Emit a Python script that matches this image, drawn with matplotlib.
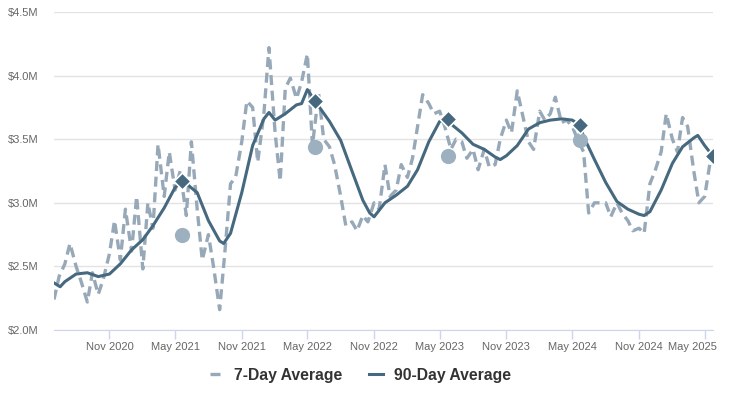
import numpy as np
import pandas as pd
import matplotlib
matplotlib.use("Agg")
import matplotlib.pyplot as plt
import matplotlib.dates as mdates
import matplotlib.transforms as mtransforms
from matplotlib.ticker import FuncFormatter

plt.rcParams['font.family'] = ['Liberation Sans', 'DejaVu Sans']

# 7-day average, sampled on the 1st and 15th of each month (values in $M)
ma7_dates = list(pd.date_range("2020-06-01", "2025-05-15", freq="SMS")) + [pd.Timestamp("2025-05-23")]
ma7_values = [
    # 2020 Jun-Dec
    2.24, 2.42, 2.52, 2.68, 2.50, 2.38, 2.22, 2.45, 2.28, 2.40, 2.60, 2.86, 2.55, 2.95,
    # 2021
    2.62, 3.05, 2.48, 3.00, 2.80, 3.46, 3.05, 3.40, 3.10, 3.25, 2.90, 3.48,
    2.95, 2.55, 2.75, 2.50, 2.16, 2.60, 3.15, 3.20, 3.48, 3.80, 3.75, 3.32,
    # 2022
    3.70, 4.22, 3.55, 3.17, 3.90, 3.98, 3.82, 3.95, 4.17, 3.45, 3.86, 3.50,
    3.44, 3.30, 3.05, 2.82, 2.85, 2.78, 2.90, 2.85, 3.00, 2.95, 3.30, 3.05,
    # 2023
    3.10, 3.30, 3.20, 3.35, 3.60, 3.85, 3.78, 3.70, 3.72, 3.60, 3.42, 3.50,
    3.48, 3.35, 3.42, 3.26, 3.42, 3.28, 3.30, 3.50, 3.65, 3.55, 3.88, 3.70,
    # 2024
    3.48, 3.42, 3.72, 3.65, 3.70, 3.83, 3.63, 3.65, 3.60, 3.50, 3.40, 2.92,
    3.00, 3.00, 3.00, 2.89, 3.00, 2.92, 2.86, 2.78, 2.80, 2.76, 3.15, 3.25,
    # 2025 Jan-May
    3.40, 3.70, 3.50, 3.40, 3.67, 3.60, 3.25, 3.00, 3.05, 3.30, 3.38,
]

# 90-day average (values in $M)
ma90_dates = [
    "2020-06-01", "2020-06-18", "2020-07-01", "2020-08-01", "2020-09-01", "2020-10-01",
    "2020-11-01", "2020-12-01", "2021-01-01", "2021-02-01", "2021-03-01", "2021-04-01",
    "2021-05-01", "2021-05-21", "2021-06-01", "2021-07-01", "2021-08-01", "2021-09-01",
    "2021-09-12", "2021-10-01", "2021-11-01", "2021-12-01", "2022-01-01", "2022-01-15",
    "2022-02-01", "2022-03-01", "2022-04-01", "2022-04-15", "2022-05-01", "2022-05-22",
    "2022-06-01", "2022-07-01", "2022-08-01", "2022-09-01", "2022-10-01", "2022-10-20",
    "2022-11-01", "2022-12-01", "2023-01-01", "2023-02-01", "2023-03-01", "2023-04-01",
    "2023-05-01", "2023-05-23", "2023-06-01", "2023-07-01", "2023-08-01", "2023-09-01",
    "2023-10-01", "2023-10-15", "2023-11-01", "2023-12-01", "2024-01-01", "2024-02-01",
    "2024-03-01", "2024-04-01", "2024-05-01", "2024-05-21", "2024-06-01", "2024-07-01",
    "2024-08-01", "2024-09-01", "2024-10-01", "2024-11-01", "2024-11-15", "2024-12-01",
    "2025-01-01", "2025-02-01", "2025-03-01", "2025-04-01", "2025-04-12", "2025-05-01",
    "2025-05-23",
]
ma90_values = [
    2.37, 2.34, 2.38, 2.44, 2.45, 2.42,
    2.44, 2.52, 2.63, 2.71, 2.82, 2.96,
    3.12, 3.17, 3.15, 3.08, 2.86, 2.70,
    2.68, 2.76, 3.08, 3.45, 3.66, 3.71,
    3.65, 3.70, 3.77, 3.78, 3.89, 3.80,
    3.76, 3.64, 3.49, 3.25, 3.02, 2.92,
    2.89, 3.00, 3.06, 3.13, 3.26, 3.48,
    3.64, 3.66, 3.62, 3.55, 3.46, 3.42,
    3.36, 3.34, 3.37, 3.45, 3.58, 3.63,
    3.65, 3.66, 3.65, 3.61, 3.52, 3.34,
    3.16, 3.01, 2.95, 2.91, 2.90, 2.93,
    3.10, 3.31, 3.44, 3.51, 3.53, 3.45,
    3.37,
]

# yearly markers
marker_dates = ["2021-05-21", "2022-05-22", "2023-05-23", "2024-05-21", "2025-05-23"]
diamond_values = [3.17, 3.80, 3.66, 3.61, 3.37]
circle_dates = ["2021-05-21", "2022-05-22", "2023-05-23", "2024-05-21"]
circle_values = [2.75, 3.44, 3.37, 3.49]

light = "#97a9b8"
dark = "#46697f"

fig = plt.figure(figsize=(7.4, 3.95), dpi=100)
ax = fig.add_axes([54 / 740, 1 - 330 / 395, (713 - 54) / 740, (330 - 12) / 395])

ax.plot(pd.to_datetime(ma7_dates), ma7_values, color=light, lw=2.4,
        dashes=(3.0, 1.7), label="7-Day Average", zorder=2)
ax.plot(pd.to_datetime(ma90_dates), ma90_values, color=dark, lw=2.2,
        label="90-Day Average", zorder=3)
ax.scatter(pd.to_datetime(circle_dates), circle_values, s=120, color="#9db0bf",
           zorder=4, linewidths=0)
ax.scatter(pd.to_datetime(marker_dates), diamond_values, s=75, marker="D",
           color=dark, edgecolors="white", linewidths=1.2, zorder=5)

ax.set_xlim(pd.Timestamp("2020-06-01"), pd.Timestamp("2025-05-24"))
ax.set_ylim(2.0, 4.5)
ax.set_yticks(np.arange(2.0, 4.51, 0.5))
ax.yaxis.set_major_formatter(FuncFormatter(lambda v, p: "${:.1f}M".format(v)))
ax.xaxis.set_major_locator(mdates.MonthLocator(bymonth=[5, 11]))
ax.xaxis.set_major_formatter(mdates.DateFormatter("%b %Y"))

ax.grid(axis="y", color="#e3e3e3", lw=1)
ax.set_axisbelow(True)
for s in ["top", "right", "left"]:
    ax.spines[s].set_visible(False)
ax.spines["bottom"].set_color("#ccd6eb")
ax.tick_params(axis="x", colors="#ccd6eb", length=6.5, width=1, pad=2.5, labelcolor="#666666", labelsize=8.0)
ax.tick_params(axis="y", length=0, pad=11, labelcolor="#666666", labelsize=8.0)

# keep the last date label inside the plot, like the original
fig.canvas.draw()
last = ax.get_xticklabels()[-1]
last.set_transform(last.get_transform() + mtransforms.ScaledTranslation(-0.12, 0, fig.dpi_scale_trans))

leg = fig.legend(loc="center", bbox_to_anchor=(0.487, 0.05), ncol=2, frameon=False,
                 handlelength=0.85, columnspacing=1.7, handletextpad=0.7,
                 prop={"weight": "bold", "size": 11.3})
for t in leg.get_texts():
    t.set_color("#333333")

fig.savefig("out.png", dpi=100)
